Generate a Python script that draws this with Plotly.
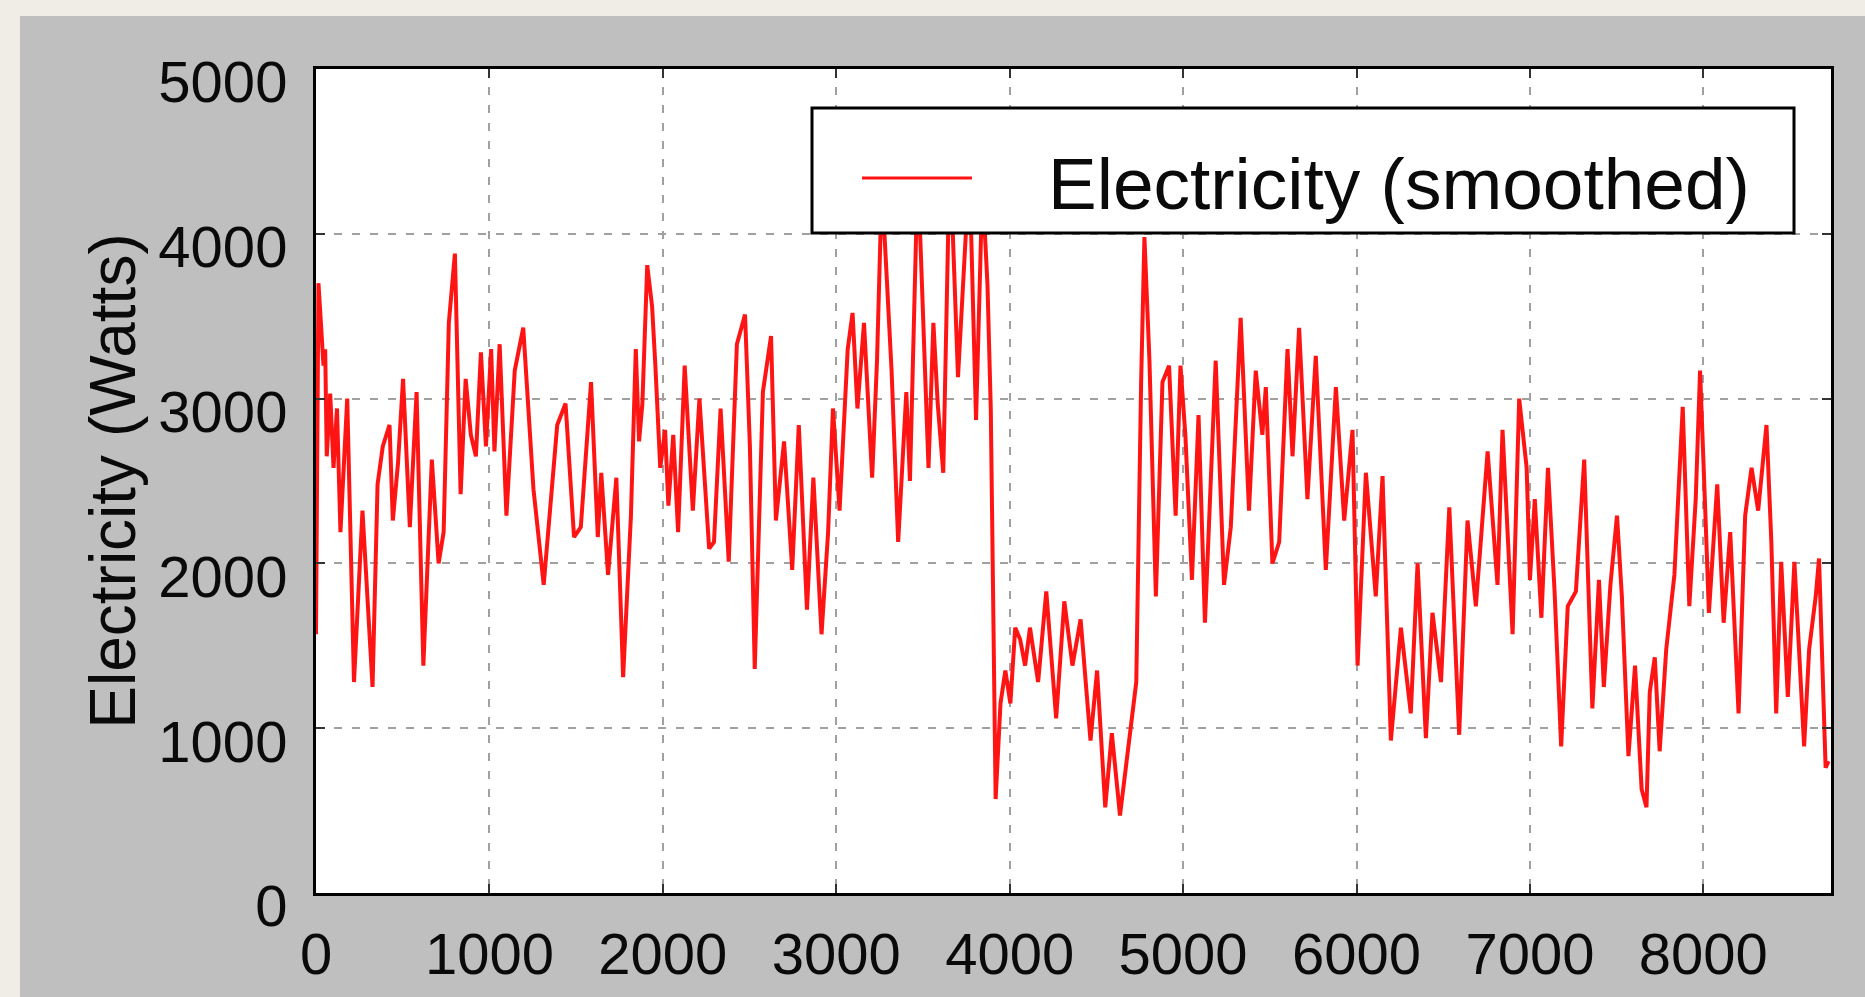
import plotly.graph_objects as go

# ---- data ----
hours = [0, 14, 23, 43, 53, 62, 82, 101, 121, 141, 180, 219, 268, 297, 326, 355, 385, 424, 443, 473,
         502, 541, 580, 619, 668, 707, 736, 766, 801, 834, 863, 893, 922, 951, 980, 1010, 1029, 1059,
         1098, 1146, 1195, 1254, 1313, 1391, 1439, 1488, 1527, 1586, 1625, 1645, 1684, 1732, 1771,
         1816, 1844, 1863, 1882, 1910, 1938, 1957, 1985, 2013, 2032, 2060, 2088, 2126, 2173, 2211,
         2267, 2295, 2333, 2380, 2427, 2474, 2502, 2530, 2577, 2624, 2652, 2699, 2746, 2784, 2831,
         2868, 2915, 2953, 2981, 3019, 3066, 3094, 3122, 3160, 3207, 3235, 3263, 3319, 3357, 3404,
         3425, 3470, 3532, 3560, 3585, 3617, 3655, 3702, 3730, 3768, 3806, 3843, 3872, 3891, 3919,
         3947, 3975, 4004, 4032, 4060, 4089, 4117, 4164, 4211, 4268, 4315, 4362, 4409, 4466, 4504,
         4551, 4589, 4636, 4683, 4730, 4758, 4777, 4806, 4843, 4881, 4919, 4957, 4985, 5013, 5051,
         5089, 5126, 5188, 5236, 5275, 5332, 5380, 5419, 5457, 5477, 5515, 5554, 5602, 5631, 5669,
         5717, 5765, 5823, 5881, 5929, 5977, 6006, 6054, 6111, 6150, 6198, 6256, 6313, 6352, 6400,
         6438, 6487, 6535, 6592, 6640, 6688, 6756, 6813, 6842, 6900, 6938, 6981, 7000, 7028, 7066,
         7104, 7142, 7180, 7218, 7265, 7313, 7360, 7398, 7426, 7464, 7502, 7530, 7568, 7606, 7644,
         7672, 7691, 7720, 7748, 7786, 7833, 7881, 7919, 7956, 7981, 8013, 8032, 8080, 8117, 8155,
         8203, 8241, 8278, 8316, 8364, 8392, 8420, 8449, 8487, 8525, 8553, 8581, 8610, 8648, 8667,
         8686, 8705, 8722]
watts = [1570, 3700, 3550, 3200, 3300, 2650, 3030, 2580, 2940, 2190, 3000, 1280, 2320, 1740, 1250, 2480, 2710, 2840, 2260, 2610,
         3120, 2220, 3040, 1380, 2630, 2000, 2190, 3460, 3880, 2420, 3120, 2780, 2650, 3280, 2710, 3300, 2680, 3330,
         2290, 3170, 3430, 2450, 1870, 2840, 2970, 2160, 2220, 3100, 2160, 2550, 1930, 2520, 1310,
         2290, 3300, 2740, 2970, 3810, 3560, 3200, 2580, 2810, 2350, 2780, 2190, 3200, 2320, 3000,
         2090, 2130, 2940, 2010, 3330, 3510, 2710, 1360, 3040, 3380, 2260, 2740, 1960, 2840, 1720,
         2520, 1570, 2190, 2940, 2320, 3300, 3520, 2940, 3460, 2520, 3230, 4300, 3170, 2130, 3040,
         2500, 4400, 2580, 3460, 2970, 2550, 4500, 3130, 3690, 4400, 2870, 4300, 3690, 2940, 570,
         1150, 1350, 1150, 1610, 1540, 1380, 1610, 1280, 1830, 1060, 1770, 1380, 1660, 925, 1350,
         520, 970, 470, 860, 1280, 3100, 3980, 3230, 1800, 3100, 3200, 2290, 3200, 2780, 1900,
         2900, 1640, 3230, 1870, 2220, 3490, 2320, 3170, 2780, 3070, 2000, 2130, 3300, 2650, 3430,
         2390, 3260, 1960, 3070, 2260, 2810, 1380, 2550, 1800, 2530, 925, 1610, 1090, 2000, 940,
         1700, 1280, 2340, 960, 2260, 1740, 2680, 1870, 2810, 1570, 3000, 2580, 1900, 2390, 1670,
         2580, 1830, 890, 1740, 1830, 2630, 1120, 1900, 1250, 1870, 2290, 1800, 830, 1380, 630,
         520, 1220, 1430, 860, 1480, 1930, 2950, 1740, 2390, 3170, 2260, 1700, 2480, 1640, 2190,
         1090, 2290, 2580, 2320, 2840, 2130, 1090, 2010, 1190, 2010, 1480, 890, 1480, 1800, 2030,
         1380, 760, 800]

x_ticks = [0, 1000, 2000, 3000, 4000, 5000, 6000, 7000, 8000]
y_ticks = [0, 1000, 2000, 3000, 4000, 5000]
series_name = "Electricity (smoothed)"
y_title = "Electricity (Watts)"

# ---- layout geometry (pixels) ----
W, H = 1865, 997
L, R, T, B = 316, 1831, 69, 893


def px(x):
    return (x - L) / (R - L)


def py(y):
    return (B - y) / (B - T)


FONT = "Liberation Sans, Arial, Helvetica, sans-serif"
GRAY = "#bfbfbf"
BEIGE = "#f0ede7"
TXT = "#0a0a0a"
RED = "rgb(255,20,20)"

fig = go.Figure()
fig.add_trace(go.Scatter(
    x=hours, y=watts, mode="lines", name=series_name,
    line=dict(color=RED, width=4),
    showlegend=False,
))

axis_common = dict(
    showline=True, linecolor="black", linewidth=3, mirror="allticks",
    ticks="inside", ticklen=9, tickwidth=1.5, tickcolor="#333333",
    showgrid=True, gridcolor="#a0a0a0", gridwidth=2, griddash="8px,10px",
    zeroline=False,
    tickfont=dict(family=FONT, size=58, color=TXT),
)

fig.update_xaxes(range=[0, 8736], tickmode="array", tickvals=x_ticks,
                 ticktext=[str(v) for v in x_ticks], ticklabelstandoff=8,
                 **axis_common)
fig.update_yaxes(range=[0, 5000], tickmode="array", tickvals=y_ticks,
                 ticktext=[str(v) for v in y_ticks], ticklabelstandoff=14,
                 ticklabelshift=13,
                 title=dict(text=y_title, font=dict(family=FONT, size=64, color=TXT),
                            standoff=2),
                 **axis_common)

shapes = [
    # beige page strips outside the gray panel
    dict(type="rect", xref="paper", yref="paper", layer="below",
         x0=px(0), x1=px(20), y0=py(H), y1=py(0), fillcolor=BEIGE, line=dict(width=0)),
    dict(type="rect", xref="paper", yref="paper", layer="below",
         x0=px(0), x1=px(W), y0=py(16), y1=py(0), fillcolor=BEIGE, line=dict(width=0)),
    # legend box
    dict(type="rect", xref="paper", yref="paper", layer="above",
         x0=px(812), x1=px(1794), y0=py(233), y1=py(108),
         fillcolor="white", line=dict(color="black", width=3)),
    # legend sample line
    dict(type="line", xref="paper", yref="paper", layer="above",
         x0=px(862), x1=px(972), y0=py(178), y1=py(178),
         line=dict(color=RED, width=3)),
]

annotations = [
    dict(text=series_name, xref="paper", yref="paper", x=px(1046), y=py(183),
         xanchor="left", yanchor="middle", showarrow=False,
         font=dict(family=FONT, size=73, color=TXT)),
]

fig.update_layout(
    width=W, height=H,
    margin=dict(l=L, r=W - R, t=T, b=H - B, pad=0),
    paper_bgcolor=GRAY, plot_bgcolor="white",
    shapes=shapes, annotations=annotations,
    showlegend=False,
)

fig.write_html("out.html")
